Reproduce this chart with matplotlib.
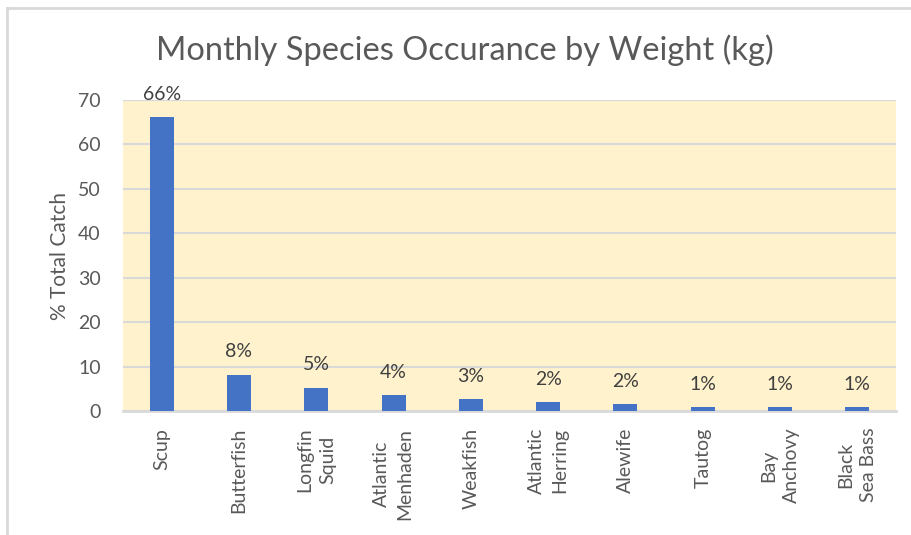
import matplotlib
matplotlib.use("Agg")
import matplotlib.pyplot as plt
from matplotlib.lines import Line2D

plt.rcParams['font.family'] = ['Lato', 'DejaVu Sans']

species = ["Scup", "Butterfish", "Longfin\nSquid", "Atlantic\nMenhaden", "Weakfish",
           "Atlantic\nHerring", "Alewife", "Tautog", "Bay\nAnchovy", "Black\nSea Bass"]
pct_catch = [66.1, 8.2, 5.2, 3.6, 2.6, 2.0, 1.5, 0.9, 0.9, 0.9]
y_ticks = [0, 10, 20, 30, 40, 50, 60, 70]

text_color = "#595959"
grid_color = "#d9d9d9"
bar_color = "#4472c4"
plot_bg = "#fff2cc"

fig = plt.figure(figsize=(9.12, 5.35), dpi=100)
ax = fig.add_axes([123 / 912, 1 - 411 / 535, 773 / 912, 311 / 535])
ax.set_facecolor(plot_bg)

x = list(range(len(species)))
bars = ax.bar(x, pct_catch, width=0.31, color=bar_color, zorder=3)

for xi, v in zip(x, pct_catch):
    ax.annotate(f"{v:.0f}%", (xi, v), xytext=(0, 16.5), textcoords="offset points",
                ha="center", va="center", fontsize=14, color="#404040")

ax.set_xlim(-0.5, len(species) - 0.5)
ax.set_ylim(0, 70)
ax.set_yticks(y_ticks)
ax.yaxis.grid(True, color=grid_color, linewidth=1.5, zorder=0)
ax.set_axisbelow(True)
for s in ["top", "right", "left"]:
    ax.spines[s].set_visible(False)
ax.spines["bottom"].set_color(grid_color)
ax.spines["bottom"].set_linewidth(2)

ax.set_xticks(x)
ax.set_xticklabels(species, rotation=90, ha="center", va="top", multialignment="center",
                   fontsize=14, color=text_color, linespacing=1.45)
ax.tick_params(axis="x", length=0, pad=12)
ax.tick_params(axis="y", length=0, pad=16, labelsize=14, labelcolor=text_color)

ax.set_ylabel("% Total Catch", fontsize=15, color=text_color, labelpad=6)

fig.text(465 / 912, 1 - 50 / 535, "Monthly Species Occurance by Weight (kg)",
         ha="center", va="center", fontsize=23.5, color=text_color, fontweight="normal")

# chart frame (left and top edges)
fig.add_artist(Line2D([7 / 912, 7 / 912], [0, 1 - 8 / 535], transform=fig.transFigure,
                      color=grid_color, linewidth=2))
fig.add_artist(Line2D([7 / 912, 1], [1 - 8 / 535, 1 - 8 / 535], transform=fig.transFigure,
                      color=grid_color, linewidth=2))

fig.savefig("out.png", dpi=100)
